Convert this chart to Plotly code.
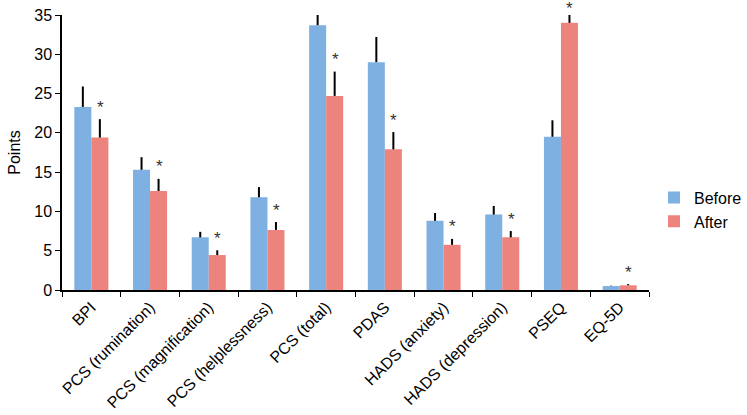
import plotly.graph_objects as go

categories = ["BPI", "PCS (rumination)", "PCS (magnification)", "PCS (helplessness)",
              "PCS (total)", "PDAS", "HADS (anxiety)", "HADS (depression)", "PSEQ", "EQ-5D"]
before = [23.3, 15.3, 6.7, 11.8, 33.7, 29.0, 8.8, 9.6, 19.5, 0.5]
before_err = [2.6, 1.6, 0.7, 1.3, 1.6, 3.2, 1.0, 1.1, 2.1, 0.05]
after = [19.4, 12.6, 4.45, 7.65, 24.7, 17.9, 5.75, 6.7, 34.0, 0.6]
after_err = [2.35, 1.55, 0.6, 1.0, 3.1, 2.2, 0.75, 0.8, 1.5, 0.15]
significant = ["*"] * 10
y_max = 35

FONT = "Liberation Sans, Arial, sans-serif"

fig = go.Figure()
fig.add_trace(go.Bar(
    name="Before", x=categories, y=before,
    marker=dict(color="#7fb0e2", line=dict(width=0)),
    error_y=dict(type="data", array=before_err, arrayminus=[0] * 10, symmetric=False,
                 color="black", thickness=2, width=0),
))
fig.add_trace(go.Bar(
    name="After", x=categories, y=after,
    marker=dict(color="#ec837d", line=dict(width=0)),
    error_y=dict(type="data", array=after_err, arrayminus=[0] * 10, symmetric=False,
                 color="black", thickness=2, width=0),
))

for c, a, e, s in zip(categories, after, after_err, significant):
    top = a + e
    near_top = top > y_max - 1
    fig.add_annotation(x=c, y=min(top, y_max), text=s, showarrow=False, xshift=9,
                       yshift=7 if near_top else 12, yanchor="middle",
                       font=dict(size=17, color="#333333", family=FONT))

fig.update_layout(
    width=747, height=415,
    margin=dict(l=62, r=98, t=15, b=125),
    paper_bgcolor="white", plot_bgcolor="white",
    barmode="group", bargap=0.42, bargroupgap=0,
    font=dict(family=FONT, color="black"),
    legend=dict(xref="container", yref="container", x=1.0, y=0.495,
                xanchor="right", yanchor="middle",
                font=dict(size=16, family=FONT), itemwidth=30, tracegroupgap=8),
    showlegend=True,
)
fig.update_xaxes(
    showline=True, linecolor="black", linewidth=1.5, automargin=False,
    ticks="outside", tickson="boundaries", ticklen=5, tickcolor="black",
    tickangle=-45, tickfont=dict(size=16, family=FONT), showgrid=False,
)
fig.update_yaxes(
    range=[0, y_max], dtick=5, showline=True, linecolor="black", linewidth=1.5,
    automargin=False,
    ticks="outside", ticklen=5, tickcolor="black", showgrid=False, zeroline=False,
    tickfont=dict(size=16, family=FONT),
    title=dict(text="Points", font=dict(size=16, family=FONT), standoff=10),
)

fig.write_html("out.html", config={"displayModeBar": False},
               post_script="document.body.style.margin='0';")
